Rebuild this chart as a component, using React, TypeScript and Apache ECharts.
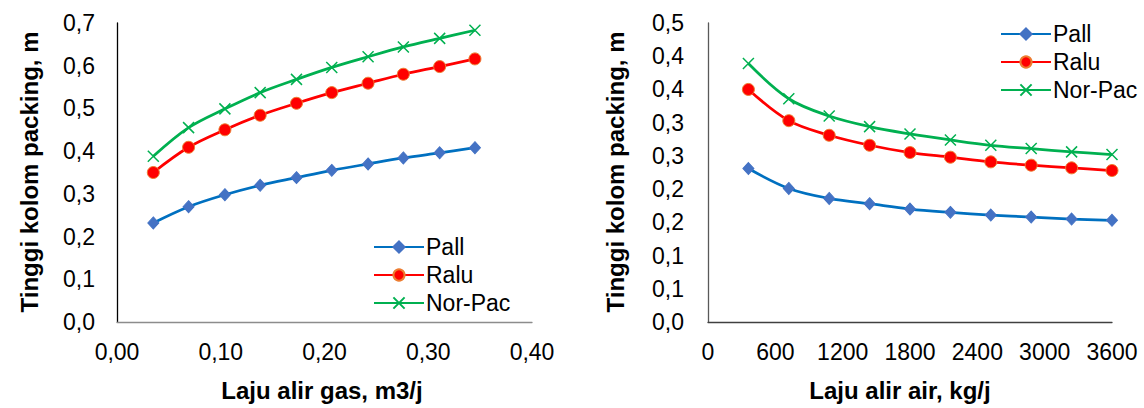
import React, { useEffect, useRef } from "react";
import * as echarts from "echarts";

const seriesNames = ["Pall", "Ralu", "Nor-Pac"];

// Left chart: Laju alir gas (m3/j)
const gasFlow = [0.035, 0.069, 0.104, 0.138, 0.173, 0.207, 0.242, 0.276, 0.311, 0.345];
const gasPall = [0.232, 0.27, 0.298, 0.32, 0.338, 0.355, 0.37, 0.384, 0.396, 0.408];
const gasRalu = [0.35, 0.409, 0.45, 0.484, 0.512, 0.537, 0.559, 0.58, 0.598, 0.616];
const gasNorPac = [0.388, 0.455, 0.499, 0.537, 0.568, 0.596, 0.621, 0.644, 0.664, 0.683];

// Right chart: Laju alir air (kg/j)
const waterFlow = [360, 720, 1080, 1440, 1800, 2160, 2520, 2880, 3240, 3600];
const waterPall = [0.231, 0.201, 0.186, 0.178, 0.17, 0.165, 0.161, 0.158, 0.155, 0.153];
const waterRalu = [0.35, 0.303, 0.281, 0.266, 0.255, 0.248, 0.241, 0.236, 0.232, 0.228];
const waterNorPac = [0.389, 0.336, 0.31, 0.294, 0.283, 0.274, 0.266, 0.261, 0.256, 0.252];

// Tick labels
const leftXLabels = ["0,00", "0,10", "0,20", "0,30", "0,40"];
const leftYLabels = ["0,0", "0,1", "0,2", "0,3", "0,4", "0,5", "0,6", "0,7"];
const rightXLabels = ["0", "600", "1200", "1800", "2400", "3000", "3600"];
const rightYLabels = ["0,0", "0,1", "0,1", "0,2", "0,2", "0,3", "0,3", "0,4", "0,4", "0,5"];

const FONT = "'Liberation Sans', Arial, sans-serif";

const styles = [
  {
    symbol: "diamond",
    symbolSize: [11, 12],
    itemStyle: { color: "#4472C4", borderColor: "#4472C4", borderWidth: 1 },
    lineStyle: { color: "#0070C0", width: 2.75 },
  },
  {
    symbol: "circle",
    symbolSize: 12,
    itemStyle: { color: "#FF0000", borderColor: "#ED7D31", borderWidth: 1 },
    lineStyle: { color: "#FF0000", width: 2.75 },
  },
  {
    symbol: "path://M0,0L10,10M10,0L0,10",
    symbolSize: 11,
    itemStyle: { color: "#00B050", borderColor: "#00B050", borderWidth: 1.5 },
    lineStyle: { color: "#00B050", width: 2.75 },
  },
];

function makeSeries(xs: number[], ys: number[][], axisIndex: number) {
  return ys.map((vals, i) => ({
    name: seriesNames[i],
    type: "line",
    xAxisIndex: axisIndex,
    yAxisIndex: axisIndex,
    smooth: 0.35,
    data: xs.map((x, j) => [x, vals[j]]),
    ...styles[i],
  }));
}

export default function App() {
  const ref = useRef<HTMLDivElement>(null);

  useEffect(() => {
    if (!ref.current) return;
    const chart = echarts.init(ref.current, undefined, { renderer: "svg" });
    const labelStyle = { color: "#000", fontSize: 23, fontFamily: FONT };
    const titleStyle = { fill: "#000", fontSize: 24, fontWeight: "bold", fontFamily: FONT };
    const legendText = {
      color: "#000",
      fontSize: 23,
      fontFamily: FONT,
      lineHeight: 24,
      padding: [0, 0, 0, -3],
    };

    chart.setOption({
      animation: false,
      backgroundColor: "#fff",
      grid: [
        { left: 117, top: 23, width: 415, height: 299 },
        { left: 708, top: 23, width: 404, height: 299 },
      ],
      xAxis: [
        {
          type: "value",
          gridIndex: 0,
          min: 0,
          max: 0.4,
          interval: 0.1,
          splitLine: { show: false },
          axisTick: { show: false },
          axisLine: { lineStyle: { color: "#8C8C8C", width: 1.3 } },
          axisLabel: {
            ...labelStyle,
            margin: 18,
            formatter: (v: number) => leftXLabels[Math.round(v / 0.1)] ?? "",
          },
        },
        {
          type: "value",
          gridIndex: 1,
          min: 0,
          max: 3600,
          interval: 600,
          splitLine: { show: false },
          axisTick: { show: false },
          axisLine: { lineStyle: { color: "#404040", width: 1.3 } },
          axisLabel: {
            ...labelStyle,
            margin: 18,
            formatter: (v: number) => rightXLabels[Math.round(v / 600)] ?? "",
          },
        },
      ],
      yAxis: [
        {
          type: "value",
          gridIndex: 0,
          min: 0,
          max: 0.7,
          interval: 0.1,
          splitLine: { show: false },
          axisTick: { show: false },
          axisLine: { show: true, lineStyle: { color: "#000", width: 1.3 } },
          axisLabel: {
            ...labelStyle,
            margin: 22,
            formatter: (v: number) => leftYLabels[Math.round(v / 0.1)] ?? "",
          },
        },
        {
          type: "value",
          gridIndex: 1,
          min: 0,
          max: 0.45,
          interval: 0.05,
          splitLine: { show: false },
          axisTick: { show: false },
          axisLine: { show: true, lineStyle: { color: "#595959", width: 1.3 } },
          axisLabel: {
            ...labelStyle,
            margin: 24,
            formatter: (v: number) => rightYLabels[Math.round(v / 0.05)] ?? "",
          },
        },
      ],
      legend: [
        {
          orient: "vertical",
          left: 368,
          top: 230,
          itemWidth: 50,
          itemHeight: 14,
          itemGap: 4,
          data: seriesNames,
          textStyle: legendText,
        },
        {
          orient: "vertical",
          left: 995,
          top: 17,
          itemWidth: 50,
          itemHeight: 14,
          itemGap: 4,
          data: seriesNames,
          textStyle: legendText,
        },
      ],
      graphic: [
        {
          type: "text",
          x: 29,
          y: 172,
          rotation: Math.PI / 2,
          style: { ...titleStyle, text: "Tinggi kolom packing, m", align: "center", verticalAlign: "middle" },
        },
        {
          type: "text",
          x: 615,
          y: 172,
          rotation: Math.PI / 2,
          style: { ...titleStyle, text: "Tinggi kolom packing, m", align: "center", verticalAlign: "middle" },
        },
        {
          type: "text",
          x: 322,
          y: 390,
          style: { ...titleStyle, text: "Laju alir gas, m3/j", align: "center", verticalAlign: "middle" },
        },
        {
          type: "text",
          x: 900,
          y: 390,
          style: { ...titleStyle, text: "Laju alir air, kg/j", align: "center", verticalAlign: "middle" },
        },
      ],
      series: [
        ...makeSeries(gasFlow, [gasPall, gasRalu, gasNorPac], 0),
        ...makeSeries(waterFlow, [waterPall, waterRalu, waterNorPac], 1),
      ],
    });

    return () => chart.dispose();
  }, []);

  return (
    <div
      ref={ref}
      style={{ position: "fixed", left: 0, top: 0, width: 1144, height: 408, background: "#fff" }}
    />
  );
}
